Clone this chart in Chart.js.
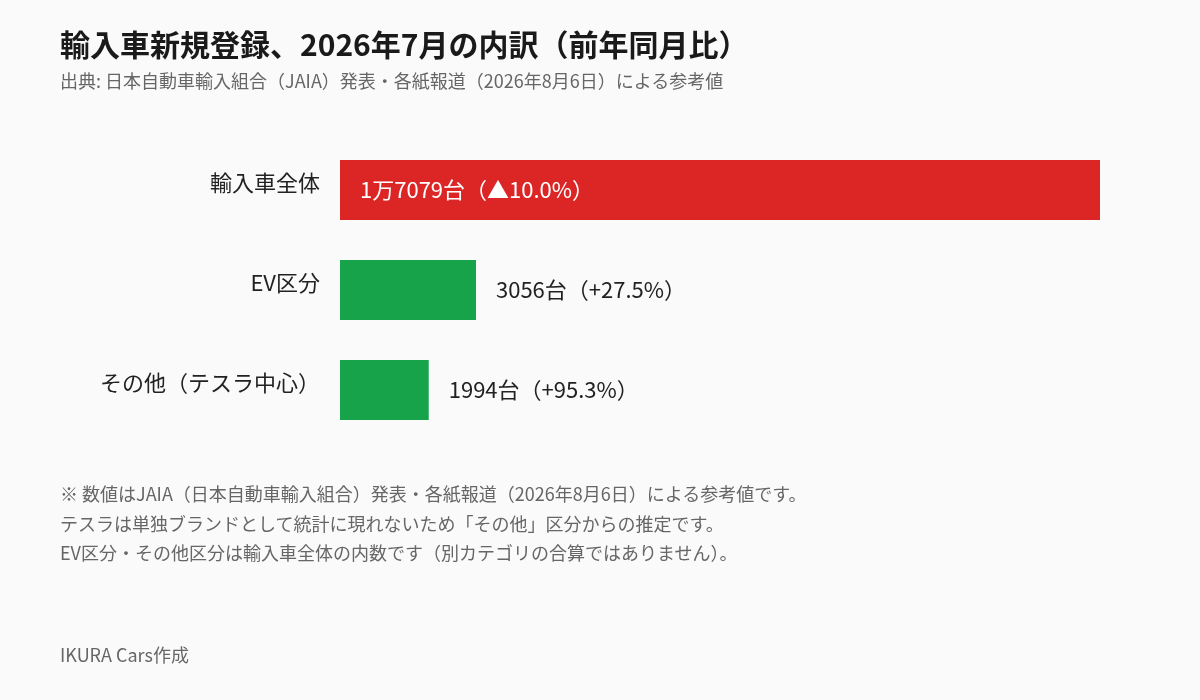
<html lang="ja">
<head>
    <meta charset="UTF-8">
    <title>輸入車新規登録</title>
    <script src="https://cdn.jsdelivr.net/npm/chart.js"></script>
    <style>
        body {
            margin: 0;
            background: #fafafa;
            font-family: "Noto Sans CJK JP", "Noto Sans", sans-serif;
        }
        #wrap {
            position: relative;
            width: 1200px;
            height: 700px;
        }
        #chart {
            position: absolute;
            left: 0;
            top: 0;
        }
        .txt {
            position: absolute;
            left: 60px;
            white-space: nowrap;
        }
        h1 {
            position: absolute;
            left: 60px;
            top: 23px;
            margin: 0;
            font-size: 30px;
            line-height: 40px;
            font-weight: 700;
            color: #1a1a1a;
        }
    </style>
</head>
<body>
<div id="wrap">
    <canvas id="chart" width="1200" height="700"></canvas>
    <h1>輸入車新規登録、2026年7月の内訳（前年同月比）</h1>
    <div class="txt" style="top:68px;font-size:18px;line-height:24px;color:#666;">出典: 日本自動車輸入組合（JAIA）発表・各紙報道（2026年8月6日）による参考値</div>
    <div class="txt" style="top:479px;font-size:18px;color:#666;line-height:29.5px;">
        ※ 数値はJAIA（日本自動車輸入組合）発表・各紙報道（2026年8月6日）による参考値です。<br>
        テスラは単独ブランドとして統計に現れないため「その他」区分からの推定です。<br>
        EV区分・その他区分は輸入車全体の内数です（別カテゴリの合算ではありません）。
    </div>
    <div class="txt" style="top:641px;font-size:18px;line-height:26px;color:#666;">IKURA Cars作成</div>
</div>

<script>
    const categories = ['輸入車全体', 'EV区分', 'その他（テスラ中心）'];
    const units = [17079, 3056, 1994];
    const valueLabels = ['1万7079台（▲10.0%）', '3056台（+27.5%）', '1994台（+95.3%）'];
    const barColors = ['#dc2626', '#16a34a', '#16a34a'];

    // ラベル描画（カテゴリ名と数値）
    const labelPlugin = {
        id: 'labels',
        afterDatasetsDraw(chart) {
            const ctx = chart.ctx;
            const meta = chart.getDatasetMeta(0);
            const yScale = chart.scales.y;
            ctx.save();
            ctx.font = '22px "Noto Sans CJK JP", sans-serif';
            ctx.textBaseline = 'middle';
            categories.forEach(function(cat, i) {
                const y = yScale.getPixelForValue(i);
                ctx.fillStyle = '#222';
                ctx.textAlign = 'right';
                ctx.fillText(cat, chart.chartArea.left - 20, y - 7);

                const bar = meta.data[i];
                ctx.textAlign = 'left';
                if (i === 0) {
                    ctx.fillStyle = '#ffffff';
                    ctx.fillText(valueLabels[i], bar.base + 20, y);
                } else {
                    ctx.fillStyle = '#222';
                    ctx.fillText(valueLabels[i], bar.x + 20, y);
                }
            });
            ctx.restore();
        }
    };

    new Chart(document.getElementById('chart'), {
        type: 'bar',
        data: {
            labels: categories,
            datasets: [{
                data: units,
                backgroundColor: barColors,
                borderWidth: 0,
                barPercentage: 0.6,
                categoryPercentage: 1.0
            }]
        },
        options: {
            indexAxis: 'y',
            responsive: false,
            animation: false,
            layout: {
                padding: { left: 340, right: 100, top: 140, bottom: 260 }
            },
            scales: {
                x: { display: false, min: 0, max: 17079 },
                y: { display: false }
            },
            plugins: {
                legend: { display: false },
                tooltip: { enabled: false }
            }
        },
        plugins: [labelPlugin]
    });
</script>
</body>
</html>
